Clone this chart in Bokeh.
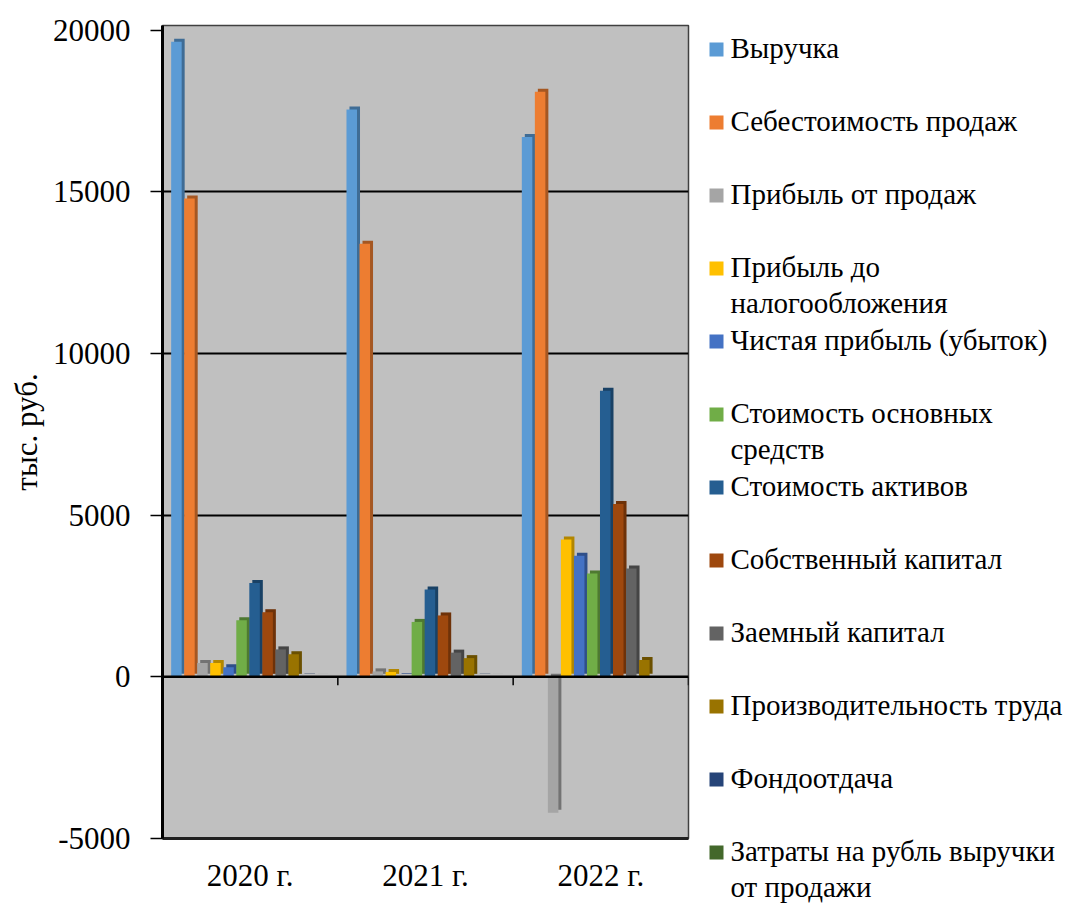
from bokeh.plotting import figure
from bokeh.layouts import row
from bokeh.models import Range1d, FixedTicker, ColumnDataSource
from bokeh.core.properties import value
from bokeh.embed import file_html
from bokeh.resources import INLINE

# ---------------- data ----------------
categories = ["2020 г.", "2021 г.", "2022 г."]
series = [
    "Выручка",
    "Себестоимость продаж",
    "Прибыль от продаж",
    "Прибыль до налогообложения",
    "Чистая прибыль (убыток)",
    "Стоимость основных средств",
    "Стоимость активов",
    "Собственный капитал",
    "Заемный капитал",
    "Производительность труда",
    "Фондоотдача",
    "Затраты на рубль выручки от продажи",
]
legend_labels = [
    "Выручка",
    "Себестоимость продаж",
    "Прибыль от продаж",
    "Прибыль до\nналогообложения",
    "Чистая прибыль (убыток)",
    "Стоимость основных\nсредств",
    "Стоимость активов",
    "Собственный капитал",
    "Заемный капитал",
    "Производительность труда",
    "Фондоотдача",
    "Затраты на рубль выручки\nот продажи",
]
revenue = [19650, 17550, 16700]
cost_of_sales = [14800, 13400, 18100]
sales_profit = [430, 170, -4200]
pretax_profit = [430, 150, 4250]
net_profit = [300, 20, 3750]
fixed_assets = [1750, 1700, 3200]
total_assets = [2900, 2700, 8850]
equity = [2000, 1900, 5350]
borrowed = [850, 750, 3350]
labour_productivity = [700, 580, 520]
asset_turnover = [10, 8, 6]
cost_per_ruble = [1, 1, 1]
values = [revenue, cost_of_sales, sales_profit, pretax_profit, net_profit,
          fixed_assets, total_assets, equity, borrowed, labour_productivity,
          asset_turnover, cost_per_ruble]
colors = ["#5B9BD5", "#ED7D31", "#A5A5A5", "#FFC000", "#4472C4", "#70AD47",
          "#255E91", "#9E480E", "#636363", "#997300", "#264478", "#43682B"]
y_ticks = [-5000, 0, 5000, 10000, 15000, 20000]
y_tick_labels = ["-5000", "0", "5000", "10000", "15000", "20000"]
y_label = "тыс. руб."

FONT = "Liberation Serif"


def shade(hex_color, f):
    h = hex_color.lstrip("#")
    r, g, b = (int(h[i:i + 2], 16) for i in (0, 2, 4))
    return "#%02x%02x%02x" % (int(r * f), int(g * f), int(b * f))


# ---------------- main chart ----------------
W_MAIN, H = 698, 906
p = figure(width=W_MAIN, height=H, output_backend="svg", toolbar_location=None,
           x_range=Range1d(0, len(categories)), y_range=Range1d(-5000, 20150),
           min_border_left=162, min_border_right=10, min_border_top=25,
           min_border_bottom=H - 838)
p.frame_align = False
p.background_fill_color = "#C0C0C0"
p.border_fill_color = "white"
p.outline_line_color = "#404040"
p.outline_line_width = 1.5

n = len(series)
step = 0.0743
fw = 0.060
dx = 0.0171
dy = 93

for j, (name, vals, col) in enumerate(zip(series, values, colors)):
    xc = [i + 0.5 + (j - (n - 1) / 2) * step - 0.012 for i in range(len(categories))]
    lo = [min(v, 0) for v in vals]
    hi = [max(v, 0) for v in vals]
    src = ColumnDataSource(dict(
        l=[x - fw / 2 for x in xc], r=[x + fw / 2 for x in xc],
        sl=[x - fw / 2 + dx for x in xc], sr=[x + fw / 2 + dx for x in xc],
        b=lo, t=hi, sb=[v + dy for v in lo], st=[v + dy for v in hi]))
    p.quad(left="sl", right="sr", bottom="sb", top="st", source=src,
           fill_color=shade(col, 0.7), line_color=None)
    p.quad(left="l", right="r", bottom="b", top="t", source=src,
           fill_color=col, line_color=None)

# zero line with category boundary ticks
p.segment(x0=[0], y0=[0], x1=[len(categories)], y1=[0], line_color="black", line_width=2.5)
bounds = list(range(len(categories) + 1))
p.segment(x0=bounds, y0=[0] * len(bounds), x1=bounds, y1=[-260] * len(bounds),
          line_color="black", line_width=1.5)

# axes
p.yaxis.ticker = FixedTicker(ticks=y_ticks)
p.yaxis.major_label_overrides = dict(zip(y_ticks, y_tick_labels))
p.yaxis.minor_tick_line_color = None
p.yaxis.major_tick_out = 12
p.yaxis.major_tick_in = 0
p.yaxis.major_tick_line_width = 1.5
p.yaxis.major_tick_line_color = "black"
p.yaxis.axis_line_color = "black"
p.yaxis.axis_line_width = 3
p.yaxis.major_label_text_font = FONT
p.yaxis.major_label_text_font_size = "31px"
p.yaxis.major_label_text_color = "black"
p.yaxis.major_label_standoff = 20
p.yaxis.axis_label = y_label
p.yaxis.axis_label_text_font = FONT
p.yaxis.axis_label_text_font_size = "31px"
p.yaxis.axis_label_text_font_style = "normal"
p.yaxis.axis_label_text_color = "black"
p.yaxis.axis_label_standoff = 6

p.xaxis.ticker = FixedTicker(ticks=[i + 0.5 for i in range(len(categories))])
p.xaxis.major_label_overrides = {i + 0.5: c for i, c in enumerate(categories)}
p.xaxis.major_tick_line_color = None
p.xaxis.minor_tick_line_color = None
p.xaxis.axis_line_color = "#202020"
p.xaxis.axis_line_width = 3
p.xaxis.major_label_text_font = FONT
p.xaxis.major_label_text_font_size = "31px"
p.xaxis.major_label_text_color = "black"
p.xaxis.major_label_standoff = 13

p.xgrid.grid_line_color = None
p.ygrid.ticker = FixedTicker(ticks=[5000, 10000, 15000])
p.ygrid.grid_line_color = "black"
p.ygrid.grid_line_width = 2

# ---------------- legend panel ----------------
W_LEG = 1066 - W_MAIN
lg = figure(width=W_LEG, height=H, output_backend="svg", toolbar_location=None,
            x_range=Range1d(0, W_LEG), y_range=Range1d(H, 0),
            x_axis_type=None, y_axis_type=None, min_border=0)
lg.frame_align = False
lg.outline_line_color = None
lg.background_fill_color = "white"
lg.border_fill_color = "white"
lg.grid.visible = False

ys = [49 + k * 73 for k in range(n)]
lg.rect(x=[18] * n, y=ys, width=14, height=14, fill_color=colors, line_color=None)
lg.text(x=[32] * n, y=[y - 18 for y in ys], text=legend_labels,
        text_font=value(FONT), text_font_size="29px", text_color="black",
        text_baseline="top", text_align="left", text_line_height=1.14)

layout = row(p, lg)
open("out.html", "w").write(file_html(layout, INLINE))
